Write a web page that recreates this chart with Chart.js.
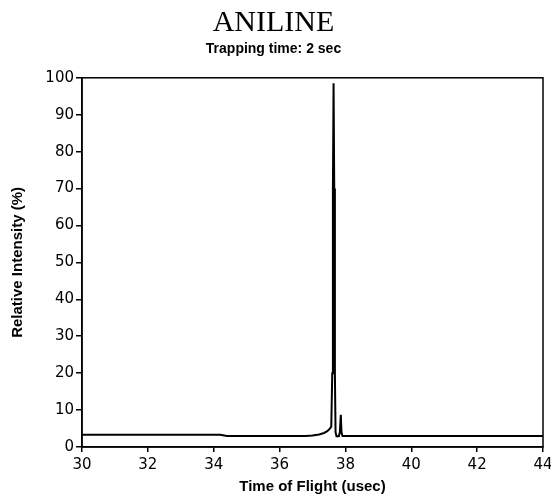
<!DOCTYPE html>
<html>
<head>
<meta charset="utf-8">
<script src="https://cdn.jsdelivr.net/npm/chart.js@4/dist/chart.umd.min.js"></script>
<style>
  html, body { margin: 0; padding: 0; background: #fff; }
  #wrap { width: 551px; height: 498px; }
</style>
</head>
<body>
<div id="wrap"><canvas id="tof" width="551" height="498"></canvas></div>
<script>
// Time of flight (usec) and relative intensity (%)
const timeOfFlight = [30, 34.2, 34.4, 36.8, 37.0, 37.2, 37.35, 37.45, 37.52, 37.57, 37.6, 37.62, 37.64, 37.66, 37.68, 37.7, 37.73, 37.8, 37.83, 37.86, 37.88, 37.91, 44];
const intensity    = [3.3, 3.3, 3.0, 3.0, 3.1, 3.4, 3.8, 4.3, 4.9, 5.5, 20, 70, 98.5, 70, 20, 4, 2.9, 2.9, 4, 8.7, 4, 3.0, 3.0];
const xTicks = [30, 32, 34, 36, 38, 40, 42, 44];
const yTicks = [0, 10, 20, 30, 40, 50, 60, 70, 80, 90, 100];

const points = timeOfFlight.map((t, i) => ({ x: t, y: intensity[i] }));

// frame around the plot area (top and right sides too)
const frame = {
    id: 'frame',
    afterDraw(chart) {
        const a = chart.chartArea;
        const ctx = chart.ctx;
        ctx.save();
        ctx.strokeStyle = '#000';
        ctx.lineWidth = 1.5;
        ctx.strokeRect(a.left, a.top, a.right - a.left, a.bottom - a.top);
        ctx.restore();
    }
};

new Chart(document.getElementById('tof').getContext('2d'), {
    type: 'line',
    data: {
        datasets: [{
            data: points,
            borderColor: '#000',
            borderWidth: 2,
            pointRadius: 0,
            tension: 0,
            fill: false
        }]
    },
    options: {
        responsive: false,
        animation: false,
        layout: { padding: { top: 0, right: 8, bottom: 2, left: 4 } },
        plugins: {
            legend: { display: false },
            tooltip: { enabled: false },
            title: {
                display: true,
                text: 'ANILINE',
                color: '#000',
                font: { family: 'Liberation Serif', size: 30, weight: 'normal' },
                padding: { top: 5, bottom: 0 }
            },
            subtitle: {
                display: true,
                text: 'Trapping time: 2 sec',
                color: '#000',
                font: { family: 'Liberation Sans', size: 14, weight: 'bold' },
                padding: { top: 0, bottom: 20 }
            }
        },
        scales: {
            x: {
                type: 'linear',
                min: 30,
                max: 44,
                afterBuildTicks: axis => { axis.ticks = xTicks.map(v => ({ value: v })); },
                afterFit: axis => { axis.height = 49; axis.paddingRight = 0; },
                ticks: {
                    color: '#000',
                    font: { family: 'DejaVu Sans', size: 15 },
                    padding: 4,
                    maxRotation: 0
                },
                grid: { drawOnChartArea: false, color: '#000', tickLength: 5, lineWidth: 1.5 },
                border: { color: '#000', width: 1.5 },
                title: {
                    display: true,
                    text: 'Time of Flight (usec)',
                    color: '#000',
                    font: { family: 'Liberation Sans', size: 15, weight: 'bold' },
                    padding: { top: 0, bottom: 0 }
                }
            },
            y: {
                min: 0,
                max: 100,
                afterBuildTicks: axis => { axis.ticks = yTicks.map(v => ({ value: v })); },
                afterFit: axis => { axis.width = 78; },
                ticks: {
                    color: '#000',
                    font: { family: 'DejaVu Sans', size: 15 },
                    padding: 2
                },
                grid: { drawOnChartArea: false, color: '#000', tickLength: 6, lineWidth: 1.5 },
                border: { color: '#000', width: 1.5 },
                title: {
                    display: true,
                    text: 'Relative Intensity (%)',
                    color: '#000',
                    font: { family: 'Liberation Sans', size: 15, weight: 'bold' },
                    padding: { top: 5, bottom: 0 }
                }
            }
        }
    },
    plugins: [frame]
});
</script>
</body>
</html>
